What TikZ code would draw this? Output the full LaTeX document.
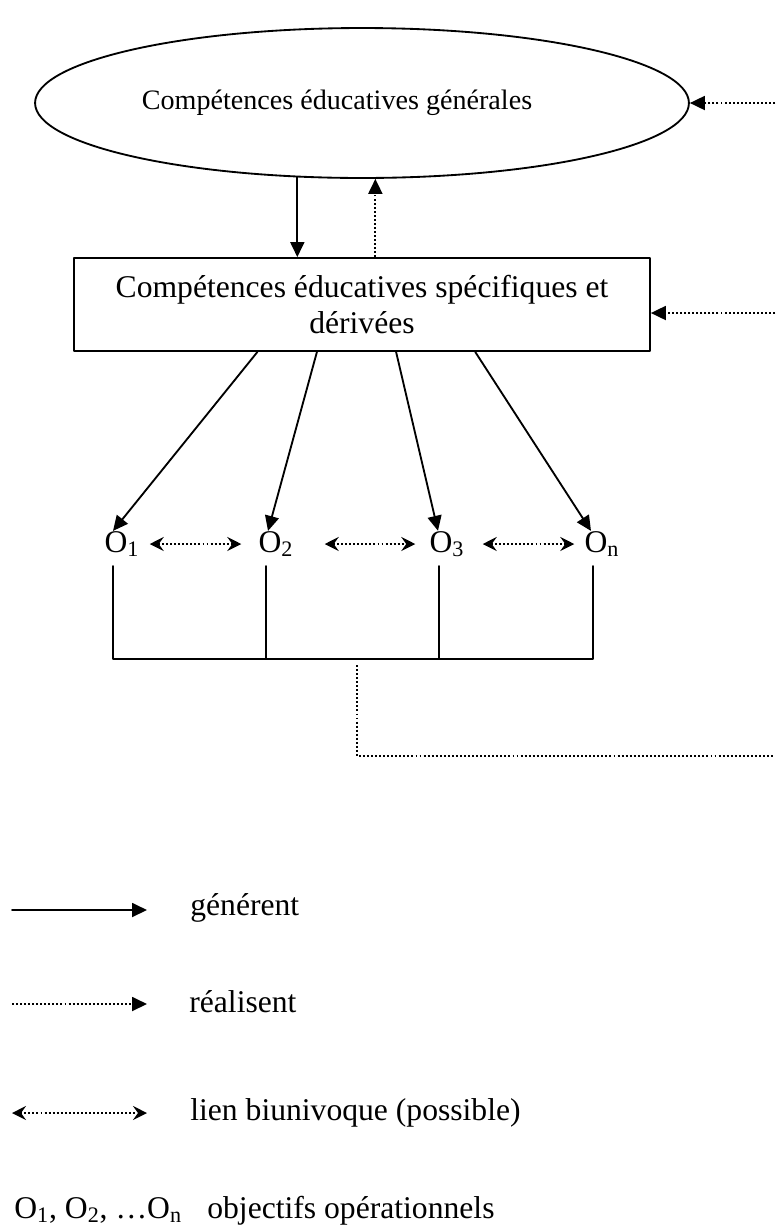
\documentclass[tikz,border=0pt]{standalone}
\usepackage{fontspec}
\setmainfont{Liberation Serif}
\usetikzlibrary{arrows.meta,shapes.geometric,calc}

\begin{document}
\begin{tikzpicture}[line join=round,line cap=round,x=0.02cm,y=-0.02cm,font=\fontsize{18}{21}\selectfont]
	\tikzset{every node/.style={inner sep=0pt},
		trait/.style={line width=1.05pt},
		pointille/.style={trait,line cap=butt,dash pattern=on 1.1pt off 1.2pt},
		genere/.style={trait,-{Triangle[length=0.3cm,width=0.28cm]}},
		realise/.style={pointille,-{Triangle[length=0.3cm,width=0.28cm]}},
		biuni/.style={pointille,{Stealth[length=0.28cm,width=0.28cm,inset=0.1cm]}-{Stealth[length=0.28cm,width=0.28cm,inset=0.1cm]}}}
	\useasboundingbox (0,0) rectangle (775,1225);
	\def \yO{544} \def \ybar{659}
	% competences
	\node[trait,draw,ellipse,minimum width=13.08cm,minimum height=3cm] (cg) at (362,103) {};
	\node[font=\fontsize{16}{20}\selectfont] (cgtxt) at (337,103) {Compétences éducatives générales};
	\node[trait,draw,minimum width=11.52cm,minimum height=1.86cm,align=center] (spec) at (362,304.5) {Compétences éducatives spécifiques et\\dérivées};
	\draw[genere] (cg.229.6) -- (cg.229.6 |- spec.north);
	\draw[realise] (spec.north -| cg.280.6) -- (cg.280.6);
	\coordinate (r1) at (775,103);
	\coordinate (r2) at (775,313);
	\coordinate (r3) at (775,756);
	\draw[realise] (r1) -- (cg.east);
	\draw[realise] (r2) -- (r2 -| spec.east);
	% objectifs
	\node (o1) at (122,\yO) {O\textsubscript{1}};
	\node (o2) at (276,\yO) {O\textsubscript{2}};
	\node (o3) at (447,\yO) {O\textsubscript{3}};
	\node (o4) at (602,\yO) {O\textsubscript{n}};
	\draw[genere] ($(spec.south west)!0.319!(spec.south east)$) -- ([xshift=-0.18cm]o1.north);
	\draw[genere] ($(spec.south west)!0.422!(spec.south east)$) -- ([xshift=-0.16cm]o2.north);
	\draw[genere] ($(spec.south west)!0.559!(spec.south east)$) -- ([xshift=-0.18cm]o3.north);
	\draw[genere] ($(spec.south west)!0.696!(spec.south east)$) -- ([xshift=-0.22cm]o4.north);
	\foreach \a/\b/\s/\t in {o1/o2/0.2/0.34,o2/o3/0.62/0.28,o3/o4/0.36/0.2}
		\draw[biuni,shorten <=\s cm,shorten >=\t cm] (\a.east) -- (\b.west);
	\draw[trait] (113,566) -- (113,\ybar) -- (593,\ybar) -- (593,566);
	\foreach \x in {266,439} \draw[trait] (\x,566) -- (\x,\ybar);
	\coordinate (bar) at (357,665);
	\draw[pointille] (bar) |- (r3);
	% legende
	\draw[genere] (12,910) -- (147,910);
	\draw[realise] (12,1004) -- (147,1004);
	\draw[biuni] (12,1113) -- (147,1113);
	\node[anchor=base west] (lg1) at (190,915) {générent};
	\node[anchor=base west] (lg2) at (189,1012) {réalisent};
	\node[anchor=base west] (lg3) at (190,1120) {lien biunivoque (possible)};
	\node[anchor=base west] (lg4) at (14,1218) {O\textsubscript{1}, O\textsubscript{2}, …O\textsubscript{n}};
	\node[anchor=base west] (lg5) at (207,1218) {objectifs opérationnels};
\end{tikzpicture}
\end{document}
